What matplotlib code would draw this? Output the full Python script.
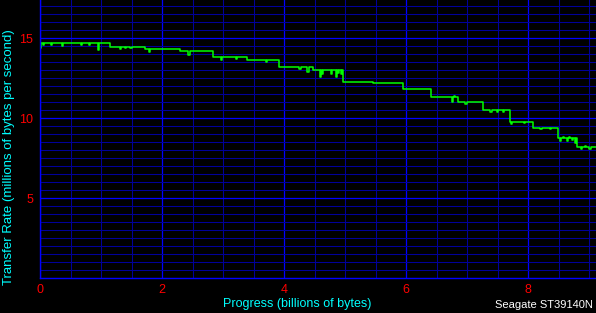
import matplotlib
matplotlib.use("Agg")
import matplotlib.pyplot as plt
from matplotlib.ticker import MultipleLocator

# Step levels (millions of bytes/s) and their boundaries (billions of bytes)
seg_edges = [0.0, 1.15, 1.72, 2.30, 2.84, 3.39, 3.92, 4.48, 4.97, 5.46,
             5.95, 6.41, 6.85, 7.26, 7.70, 8.08, 8.48, 8.80, 9.11]
seg_levels = [14.69, 14.44, 14.31, 14.19, 13.81, 13.62, 13.19, 13.00, 12.25,
              12.19, 11.81, 11.31, 11.00, 10.50, 9.79, 9.41, 8.75, 8.19]

# Short dips/spikes: (position, value)
dip_x = [0.00, 0.05, 0.18, 0.36, 0.67, 0.80, 0.95,
         1.31, 1.39, 1.48, 1.78, 2.43,
         2.97, 3.21, 3.70, 4.25, 4.38,
         4.59, 4.62, 4.70, 4.76, 4.85, 4.88, 4.93,
         6.75, 6.78, 6.97,
         7.38, 7.48, 7.58,
         7.72, 7.93, 8.20, 8.35,
         8.52, 8.57, 8.63, 8.67, 8.72, 8.76,
         8.86, 8.93, 9.00, 9.05]
dip_y = [14.40, 14.58, 14.56, 14.55, 14.58, 14.60, 14.30,
         14.35, 14.37, 14.38, 14.12, 13.95,
         13.65, 13.72, 13.55, 13.10, 12.90,
         12.60, 12.80, 13.00, 12.75, 12.60, 12.85, 12.75,
         11.05, 11.40, 10.90,
         10.42, 10.42, 10.42,
         9.62, 9.70, 9.32, 9.32,
         8.60, 8.85, 8.60, 8.85, 8.65, 8.45,
         8.08, 8.25, 8.10, 8.24]

# Build trace: step levels with the dips inserted
xs, ys = [], []
dips = dict(zip(dip_x, dip_y))
for i, lvl in enumerate(seg_levels):
    a, b = seg_edges[i], seg_edges[i + 1]
    pts = sorted([d for d in dip_x if a <= d < b])
    xs.append(a); ys.append(lvl)
    for d in pts:
        xs.append(d); ys.append(dips[d])
        xs.append(d + 0.02); ys.append(lvl)
xs.append(seg_edges[-1]); ys.append(seg_levels[-1])

x_ticks = [0, 2, 4, 6, 8]
y_ticks = [5, 10, 15]

fig = plt.figure(figsize=(5.96, 3.13), dpi=100, facecolor="black")
ax = fig.add_axes([40 / 596, (313 - 278.3) / 313, 1 - 40 / 596, 278.3 / 313])
ax.set_facecolor("black")
ax.set_xlim(0, 9.11)
ax.set_ylim(0, 17.4)

ax.xaxis.set_minor_locator(MultipleLocator(0.5))
ax.yaxis.set_minor_locator(MultipleLocator(0.5))
ax.set_xticks(x_ticks)
ax.set_yticks(y_ticks)
ax.grid(which="minor", color="#00009a", linewidth=0.75)
ax.grid(which="major", color="#0000ff", linewidth=0.9)
ax.set_axisbelow(True)

for s in ["top", "right"]:
    ax.spines[s].set_visible(False)
for s in ["left", "bottom"]:
    ax.spines[s].set_color("#0000ff")
    ax.spines[s].set_linewidth(1.0)

ax.tick_params(which="both", length=0, colors="red", labelsize=9)
ax.tick_params(axis="y", pad=5)
ax.tick_params(axis="x", pad=4)
for lab in ax.get_xticklabels() + ax.get_yticklabels():
    lab.set_color("red")
    lab.set_family("Liberation Sans")

ax.plot(xs, ys, drawstyle="steps-post", color="#00ff00", linewidth=1.1)

fig.text(9 / 596, 1 - 157 / 313, "Transfer Rate (millions of bytes per second)", rotation=90,
         color="#00ffff", fontsize=9.5, family="Liberation Sans", ha="center", va="center")
fig.text(297 / 596, 1 - 304 / 313, "Progress (billions of bytes)",
         color="#00ffff", fontsize=9, family="Liberation Sans", ha="center", va="center")
fig.text(593 / 596, 1 - 305 / 313, "Seagate ST39140N",
         color="white", fontsize=8, family="Liberation Sans", ha="right", va="center")

fig.savefig("out.png", dpi=100, facecolor="black")
